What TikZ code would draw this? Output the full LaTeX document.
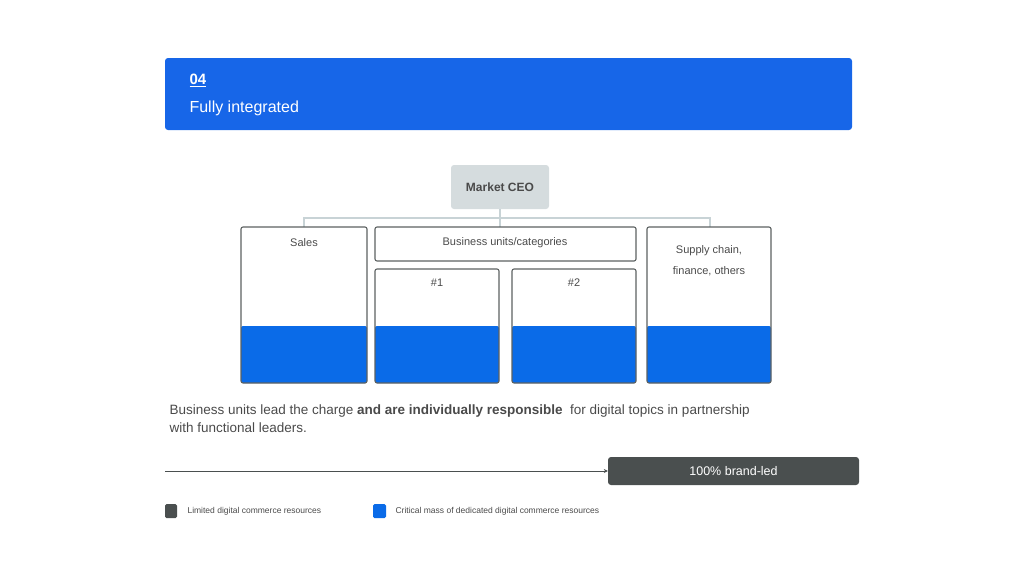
\documentclass[tikz,border=0pt]{standalone}
\usepackage{fontspec}
\setmainfont{Liberation Sans}
\usetikzlibrary{arrows.meta}
\definecolor{hblue}{HTML}{1766E8}
\definecolor{fblue}{HTML}{0A6BE8}
\definecolor{ceo}{HTML}{D5DCDE}
\definecolor{conn}{HTML}{C8D3D6}
\definecolor{dark}{HTML}{4A4F4F}
\definecolor{txt}{HTML}{4A4A4A}
\tikzset{
 unit/.style={draw=dark!90,line width=1.1pt,rounded corners=2pt},
 fillb/.style={fill=fblue,rounded corners=2pt},
 lbl/.style={font=\fontsize{11}{13}\selectfont,text=txt,align=center},
}
\begin{document}
\begin{tikzpicture}[x=1pt,y=-1pt]
\useasboundingbox (0,0) rectangle (1024,576);
\fill[hblue,rounded corners=3pt] (165,58) rectangle (852,130);
\node[anchor=west,text=white,font=\bfseries\fontsize{15}{17}\selectfont] (num) at (186,80) {\underline{04}};
\node[anchor=west,text=white,font=\fontsize{16}{19}\selectfont] (title) at (186,108) {Fully integrated};
% CEO
\node[fill=ceo,rounded corners=3pt,minimum width=98pt,minimum height=44pt,text=txt,font=\bfseries\fontsize{12}{14}\selectfont] (ceo) at (500,187) {Market CEO};
\coordinate (j) at (500,218);
\coordinate (jl) at (304,218);
\coordinate (jr) at (710,218);
\draw[conn,line width=1.2pt] (ceo.south) -- (500,227);
\draw[conn,line width=1.2pt] (304,227) -- (jl) -- (jr) -- (710,227);
% fills
\fill[fillb] (241,326) rectangle (367,383);
\fill[fillb] (375,326) rectangle (499,383);
\fill[fillb] (512,326) rectangle (636,383);
\fill[fillb] (647,326) rectangle (771,383);
\draw[unit] (241,227) rectangle (367,383);
\draw[unit] (375,227) rectangle (636,261);
\draw[unit] (375,269) rectangle (499,383);
\draw[unit] (512,269) rectangle (636,383);
\draw[unit] (647,227) rectangle (771,383);
\node[lbl] (sales) at (304,243) {Sales};
\node[lbl] (bu) at (505,243) {Business units/categories};
\node[lbl] (n1) at (437,283) {\#1};
\node[lbl] (n2) at (574,283) {\#2};
\node[lbl,font=\fontsize{11}{21}\selectfont] (sc) at (709,261) {Supply chain,\\finance, others};
\node[anchor=north west,text=txt,align=left,font=\fontsize{13.5}{18}\selectfont] (desc) at (166,401) {Business units lead the charge \textbf{and are individually responsible}\ \ for digital topics in partnership\\with functional leaders.};
\node[fill=dark,rounded corners=3pt,minimum width=251pt,minimum height=28pt,text=white,font=\fontsize{12.5}{15}\selectfont] (brand) at (733.5,471) {100\% brand-led};
\coordinate (start) at (165,471);
\draw[-{Stealth[length=4pt,width=4pt]},dark,line width=0.7pt] (start) -- (brand.west);
\fill[dark,rounded corners=1.5pt] (165,504) rectangle (177,518);
\fill[fblue,rounded corners=1.5pt] (373,504) rectangle (386,518);
\node[anchor=west,text=txt,font=\fontsize{8.5}{10}\selectfont] (l1) at (184,511) {Limited digital commerce resources};
\node[anchor=west,text=txt,font=\fontsize{8.5}{10}\selectfont] (l2) at (392,511) {Critical mass of dedicated digital commerce resources};
\end{tikzpicture}
\end{document}
